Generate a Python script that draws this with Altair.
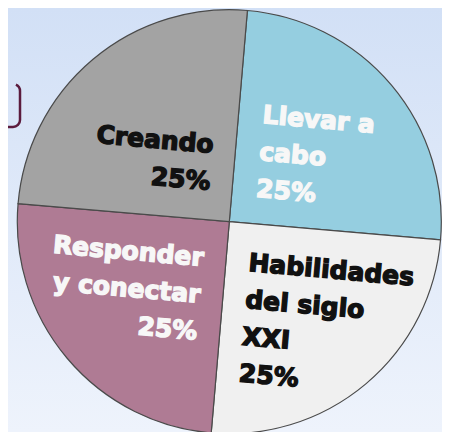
import math
import altair as alt
import pandas as pd

# ---- data ----
categorias = ["Llevar a cabo", "Habilidades del siglo XXI", "Responder y conectar", "Creando"]
valores = [25, 25, 25, 25]
etiquetas = ["Llevar a\ncabo\n25%", "Habilidades\ndel siglo\nXXI\n25%", "Responder\ny conectar\n25%", "Creando\n25%"]
colores = ["#95CEE0", "#F0F0F0", "#AF7B94", "#A3A3A3"]

df = pd.DataFrame({
    "categoria": categorias,
    "valor": valores,
    "orden": list(range(len(categorias))),
    "etiqueta": etiquetas,
})

# ---- layout / style ----
W, H = 434, 424
CX, CY = 221.3, 213.7
R = 212
ROT = math.radians(4.9)
theta_scale = alt.Scale(domain=[0, 100], range=[ROT, ROT + 2 * math.pi])

label_style = [
    dict(dx=-46.6, dy=-30.3, align="left", color="#F7F7F7"),
    dict(dx=-47.9, dy=-23.1, align="left", color="#111111"),
    dict(dx=48.2, dy=-24.4, align="right", color="#F7F7F7"),
    dict(dx=48.6, dy=3.6, align="right", color="#111111"),
]

bg = alt.Chart(pd.DataFrame({"a": [0]})).mark_rect(
    fill=alt.Gradient(
        gradient="linear",
        stops=[alt.GradientStop(color="#D2E0F6", offset=0),
               alt.GradientStop(color="#EEF3FC", offset=1)],
        x1=0, x2=0, y1=0, y2=1,
    )
).encode(x=alt.value(0), x2=alt.value(W), y=alt.value(0), y2=alt.value(H))

bracket = alt.Chart(pd.DataFrame({"a": [0]})).mark_rect(
    fillOpacity=0, stroke="#5B1B3D", strokeWidth=2.5, cornerRadius=7,
    strokeDash=[90, 300], strokeDashOffset=349,
).encode(x=alt.value(-40), x2=alt.value(12), y=alt.value(76), y2=alt.value(119))

base = alt.Chart(df).transform_stack(
    stack="valor", groupby=[], as_=["v0", "v1"],
    sort=[alt.SortField(field="orden", order="ascending")],
).transform_calculate(mid="(datum.v0 + datum.v1) / 2")

arcs = base.mark_arc(outerRadius=R, stroke="#4A4A4A", strokeWidth=1.2).encode(
    theta=alt.Theta("v0:Q", scale=theta_scale, stack=None),
    theta2="v1:Q",
    color=alt.Color("categoria:N", scale=alt.Scale(domain=categorias, range=colores), legend=None),
    x=alt.value(CX), y=alt.value(CY),
)

texts = []
for i, st in enumerate(label_style):
    t = base.transform_filter(alt.datum.orden == i).mark_text(
        radius=100, dx=st["dx"], dy=st["dy"], angle=5, align=st["align"],
        baseline="alphabetic", lineBreak="\n", lineHeight=37,
        font="DejaVu Sans", fontSize=25, fontWeight="bold", color=st["color"],
        stroke=st["color"], strokeWidth=1.4,
    ).encode(
        theta=alt.Theta("mid:Q", scale=theta_scale, stack=None),
        text="etiqueta:N",
        x=alt.value(CX), y=alt.value(CY),
    )
    texts.append(t)

chart = alt.layer(bg, bracket, arcs, *texts).properties(
    width=W, height=H, padding=0, autosize=alt.AutoSizeParams(type="none"),
).configure_view(stroke=None)

chart.save("out.html", embed_options={"renderer": "svg", "actions": False})
